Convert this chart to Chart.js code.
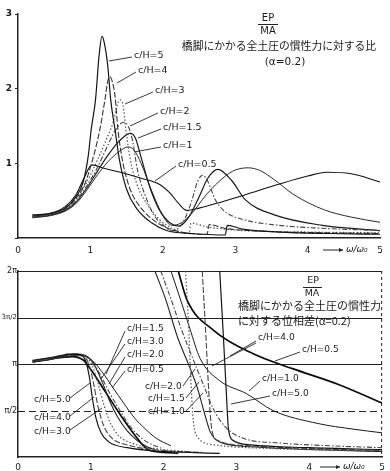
<!DOCTYPE html>
<html><head><meta charset="utf-8">
<script src="https://cdn.jsdelivr.net/npm/chart.js@4"></script>
<style>
html,body{margin:0;padding:0;background:#fff;width:390px;height:471px;overflow:hidden}
canvas{position:absolute;left:0}
#c1{top:0}
#c2{top:258px}
</style></head><body>
<canvas id="c1" width="390" height="258" style="width:390px;height:258px"></canvas>
<canvas id="c2" width="390" height="213" style="width:390px;height:213px"></canvas>
<script>
// ---------- data ----------
const xTicks = [0, 1, 2, 3, 4, 5];
const ampTicks = [0, 1, 2, 3];
const phaseTicks = [0.5, 1, 1.5, 2];            // in units of π
const phaseTickLabels = ['π/2', 'π', '3π/2', '2π'];

// EP/MA amplitude ratio vs ω/ω0
const ampCH5  = [[0.2,0.31],[0.45,0.33],[0.65,0.4],[0.8,0.55],[0.9,0.75],[0.97,1.1],[1.01,1.45],[1.07,1.85],[1.12,2.45],[1.16,2.70],[1.19,2.62],[1.24,2.3],[1.28,1.85],[1.34,1.45],[1.4,1.05],[1.5,0.65],[1.65,0.38],[1.85,0.2],[2.05,0.1],[2.4,0.06],[2.86,0.04],[2.89,0.17],[3.1,0.12],[3.6,0.08],[4.3,0.06],[5,0.05]];
const ampCH4  = [[0.2,0.30],[0.45,0.33],[0.65,0.4],[0.8,0.53],[0.92,0.72],[1.03,1.05],[1.13,1.45],[1.2,1.85],[1.24,2.1],[1.27,2.16],[1.3,2.1],[1.34,1.9],[1.38,1.45],[1.45,1.0],[1.55,0.65],[1.7,0.4],[1.9,0.22],[2.1,0.12],[2.3,0.07],[2.61,0.05],[2.64,0.18],[2.85,0.13],[3.4,0.09],[4.2,0.07],[5,0.06]];
const ampCH3  = [[0.2,0.29],[0.45,0.32],[0.65,0.39],[0.8,0.52],[0.95,0.75],[1.1,1.05],[1.22,1.32],[1.31,1.54],[1.37,1.78],[1.41,1.85],[1.45,1.78],[1.49,1.45],[1.55,1.05],[1.65,0.7],[1.8,0.43],[1.95,0.25],[2.15,0.12],[2.36,0.06],[2.39,0.2],[2.6,0.15],[3.1,0.1],[4,0.08],[5,0.07]];
const ampCH2  = [[0.2,0.28],[0.45,0.31],[0.65,0.38],[0.8,0.5],[0.95,0.7],[1.1,0.95],[1.22,1.2],[1.35,1.45],[1.46,1.55],[1.52,1.5],[1.58,1.31],[1.65,0.91],[1.78,0.51],[1.88,0.3],[2.0,0.18],[2.12,0.1],[2.2,0.12],[2.3,0.25],[2.4,0.5],[2.48,0.76],[2.55,0.84],[2.62,0.76],[2.72,0.52],[2.85,0.36],[3.1,0.25],[3.6,0.17],[4.2,0.13],[5,0.1]];
const ampCH15 = [[0.2,0.28],[0.45,0.31],[0.65,0.37],[0.8,0.48],[0.95,0.67],[1.1,0.9],[1.25,1.12],[1.4,1.3],[1.55,1.4],[1.62,1.34],[1.7,1.08],[1.82,0.68],[1.95,0.38],[2.1,0.2],[2.22,0.16],[2.35,0.27],[2.5,0.55],[2.62,0.8],[2.76,0.92],[2.95,0.77],[3.14,0.51],[3.54,0.31],[4.2,0.17],[5,0.1]];
const ampCH1  = [[0.2,0.27],[0.45,0.3],[0.65,0.36],[0.8,0.46],[0.95,0.64],[1.1,0.85],[1.25,1.03],[1.4,1.16],[1.52,1.22],[1.6,1.18],[1.7,1.0],[1.85,0.62],[2.0,0.3],[2.12,0.17],[2.25,0.2],[2.4,0.33],[2.6,0.58],[2.85,0.82],[3.0,0.91],[3.18,0.94],[3.35,0.9],[3.54,0.78],[3.81,0.58],[4.22,0.38],[4.6,0.28],[5,0.21]];
const ampCH05 = [[0.2,0.29],[0.45,0.33],[0.65,0.42],[0.8,0.58],[0.92,0.82],[1.02,0.98],[1.2,0.93],[1.45,0.87],[1.7,0.8],[1.95,0.72],[2.1,0.6],[2.22,0.46],[2.33,0.37],[2.5,0.4],[2.8,0.48],[3.14,0.58],[3.6,0.72],[4.0,0.83],[4.26,0.88],[4.6,0.86],[5,0.75]];

// phase difference (units of π); "a" = first branch, "b" = branch after wrap
const phCH5a  = [[0.2,1.04],[0.45,1.07],[0.7,1.1],[0.85,1.1],[0.93,1.03],[0.98,0.86],[1.02,0.64],[1.07,0.42],[1.14,0.26],[1.25,0.16],[1.5,0.1],[2.0,0.06],[2.77,0.04]];
const phCH5b  = [[2.77,2.0],[2.82,1.3],[2.86,0.7],[2.89,0.3],[2.95,0.18],[3.2,0.13],[4.0,0.1],[5.0,0.08]];
const phCH4a  = [[0.2,1.03],[0.45,1.06],[0.72,1.11],[0.88,1.1],[0.98,0.98],[1.04,0.78],[1.1,0.54],[1.17,0.35],[1.28,0.21],[1.5,0.13],[2.0,0.07],[2.53,0.05]];
const phCH4b  = [[2.53,2.0],[2.58,1.3],[2.62,0.7],[2.66,0.3],[2.74,0.18],[3.2,0.12],[4.0,0.09],[5.0,0.07]];
const phCH3a  = [[0.2,1.03],[0.45,1.06],[0.75,1.11],[0.92,1.09],[1.03,0.96],[1.11,0.76],[1.18,0.56],[1.26,0.38],[1.38,0.23],[1.6,0.14],[2.0,0.08],[2.3,0.06]];
const phCH3b  = [[2.3,2.0],[2.34,1.45],[2.37,0.9],[2.4,0.45],[2.46,0.22],[2.7,0.13],[3.5,0.09],[5.0,0.07]];
const phCH2a  = [[0.2,1.02],[0.45,1.05],[0.78,1.11],[0.95,1.08],[1.06,0.97],[1.16,0.8],[1.26,0.6],[1.36,0.44],[1.5,0.28],[1.65,0.17],[1.8,0.1],[1.88,0.08]];
const phCH2b  = [[1.88,2.0],[2.03,1.69],[2.19,1.29],[2.36,0.96],[2.46,0.75],[2.55,0.5],[2.64,0.27],[2.77,0.16],[3.2,0.11],[4.0,0.08],[5.0,0.06]];
const phCH15a = [[0.2,1.02],[0.45,1.05],[0.8,1.1],[1.0,1.05],[1.12,0.9],[1.25,0.7],[1.4,0.5],[1.55,0.32],[1.7,0.2],[1.85,0.13],[1.96,0.1]];
const phCH15b = [[1.96,2.0],[2.1,1.7],[2.25,1.36],[2.42,1.02],[2.55,0.77],[2.68,0.52],[2.85,0.32],[3.1,0.2],[3.6,0.15],[4.3,0.12],[5.0,0.1]];
const phCH1a  = [[0.2,1.02],[0.45,1.05],[0.8,1.09],[1.0,1.05],[1.15,0.92],[1.3,0.75],[1.45,0.58],[1.6,0.42],[1.75,0.3],[1.9,0.2],[2.1,0.12]];
const phCH1b  = [[2.1,2.0],[2.22,1.72],[2.36,1.38],[2.5,1.06],[2.77,0.82],[3.14,0.68],[3.5,0.5],[4.12,0.36],[4.6,0.3],[5.0,0.26]];
const phCH05a = [[0.2,1.03],[0.45,1.06],[0.75,1.08],[0.9,1.04],[1.0,0.94],[1.2,0.7],[1.4,0.46],[1.6,0.24],[1.78,0.08],[2.0,0.05],[2.2,0.04]];
const phCH05b = [[2.2,2.0],[2.32,1.69],[2.69,1.36],[3.23,1.11],[3.77,0.95],[4.4,0.78],[5.0,0.58]];

// ---------- styles ----------
const ampSeries = [
  {label:'c/H=5',   data:ampCH5,  color:'#151515', dash:[],     w:1.2},
  {label:'c/H=4',   data:ampCH4,  color:'#333',    dash:[6,2],  w:1.1},
  {label:'c/H=3',   data:ampCH3,  color:'#555',    dash:[1.5,2],w:1.2},
  {label:'c/H=2',   data:ampCH2,  color:'#444',    dash:[5,2,1.5,2], w:1.1},
  {label:'c/H=1.5', data:ampCH15, color:'#1a1a1a', dash:[],     w:1.2},
  {label:'c/H=1',   data:ampCH1,  color:'#2a2a2a', dash:[],     w:1.0},
  {label:'c/H=0.5', data:ampCH05, color:'#111',    dash:[],     w:1.1}
];
const phSeries = [
  {label:'c/H=5.0', data:[phCH5a, phCH5b],  color:'#151515', dash:[],      w:1.2},
  {label:'c/H=4.0', data:[phCH4a, phCH4b],  color:'#444',    dash:[6,2],   w:1.1},
  {label:'c/H=3.0', data:[phCH3a, phCH3b],  color:'#555',    dash:[1.5,2], w:1.2},
  {label:'c/H=2.0', data:[phCH2a, phCH2b],  color:'#222',    dash:[],      w:1.1},
  {label:'c/H=1.5', data:[phCH15a, phCH15b],color:'#444',    dash:[5,2,1.5,2], w:1.1},
  {label:'c/H=1.0', data:[phCH1a, phCH1b],  color:'#1a1a1a', dash:[],      w:1.0},
  {label:'c/H=0.5', data:[phCH05a, phCH05b],color:'#0a0a0a', dash:[],      w:1.7}
];

const pts = a => a.map(([x,y]) => ({x, y}));
function ds(label, arr, s){
  return {label, data: pts(arr), borderColor:s.color, borderWidth:s.w, borderDash:s.dash,
    pointRadius:0, fill:false, cubicInterpolationMode:'monotone', spanGaps:false};
}

const tickFont = {family:'DejaVu Sans', size:9};
const INK = '#1a1a1a';

function drawLabel(ctx, t, tx, ty, lx1, ly1, lx2, ly2, size){
  ctx.font = size + 'px "DejaVu Sans"';
  ctx.fillStyle = INK; ctx.textBaseline = 'middle'; ctx.textAlign = 'left';
  ctx.fillText(t, tx, ty);
  ctx.beginPath(); ctx.setLineDash([]); ctx.lineWidth = 0.9; ctx.strokeStyle = '#222';
  ctx.moveTo(lx1, ly1); ctx.lineTo(lx2, ly2); ctx.stroke();
}
function drawOmega(ctx, x0, y){
  ctx.beginPath(); ctx.setLineDash([]); ctx.lineWidth = 1; ctx.strokeStyle = '#222';
  ctx.moveTo(x0, y); ctx.lineTo(x0 + 20, y); ctx.stroke();
  ctx.beginPath(); ctx.moveTo(x0 + 20, y); ctx.lineTo(x0 + 16, y - 2); ctx.lineTo(x0 + 16, y + 2); ctx.closePath();
  ctx.fillStyle = '#222'; ctx.fill();
  ctx.font = 'italic 9px "DejaVu Sans"'; ctx.textBaseline = 'middle'; ctx.textAlign = 'left';
  ctx.fillText('ω/ω₀', x0 + 23, y);
}

// ---------- top chart ----------
const topAnno = {
  id:'topAnno',
  afterDraw(chart){
    const ctx = chart.ctx; ctx.save();
    ctx.fillStyle = INK; ctx.textAlign = 'center'; ctx.textBaseline = 'middle';
    ctx.font = '10px "DejaVu Sans"';
    ctx.fillText('EP', 268, 18);
    ctx.fillText('MA', 268, 31);
    ctx.beginPath(); ctx.lineWidth = 1; ctx.strokeStyle = '#222'; ctx.moveTo(258, 24.5); ctx.lineTo(278, 24.5); ctx.stroke();
    ctx.font = '10.8px "Noto Sans CJK JP"';
    ctx.fillText('橋脚にかかる全土圧の慣性力に対する比', 279, 46);
    ctx.font = '10.5px "DejaVu Sans"';
    ctx.fillText('(α=0.2)', 285, 62);
    const L = [
      ['c/H=5',   134, 56,  132, 57,  109, 61],
      ['c/H=4',   138, 71,  136, 72,  117, 83],
      ['c/H=3',   155, 91,  153, 92,  125, 104],
      ['c/H=2',   160, 112, 158, 113, 130, 126],
      ['c/H=1.5', 163, 128, 161, 129, 138, 138],
      ['c/H=1',   163, 146, 161, 147, 134, 152],
      ['c/H=0.5', 178, 165, 176, 166, 155, 181]
    ];
    L.forEach(l => drawLabel(ctx, ...l, 9.5));
    drawOmega(ctx, 323, 250);
    ctx.restore();
  }
};

new Chart(document.getElementById('c1'), {
  type:'line',
  data:{ datasets: ampSeries.map(s => ds(s.label, s.data, s)) },
  options:{
    responsive:false, animation:false, events:[],
    layout:{padding:{top:14, right:2, left:0, bottom:0}},
    plugins:{legend:{display:false}, tooltip:{enabled:false}},
    scales:{
      x:{type:'linear', min:0, max:5, afterBuildTicks:s => { s.ticks = xTicks.map(v => ({value:v})); },
        ticks:{font:tickFont, color:INK, padding:7, maxRotation:0},
        grid:{display:false, drawTicks:false}, border:{color:'#222', width:1.5},
        afterFit:s => { s.height = 20; }},
      y:{type:'linear', min:0, max:3, afterBuildTicks:s => { s.ticks = ampTicks.map(v => ({value:v})); },
        ticks:{font:{family:'DejaVu Sans', size:9, weight:'bold'}, color:INK, padding:3, callback:v => v === 0 ? '' : String(v)},
        grid:{drawOnChartArea:false, drawTicks:true, tickLength:3, color:'#222'},
        border:{color:'#222', width:1.5},
        afterFit:s => { s.width = 18; }}
    }
  },
  plugins:[topAnno]
});

// ---------- bottom chart ----------
const OFF = 258;
const phaseGuides = {
  id:'phaseGuides',
  beforeDatasetsDraw(chart){
    const {ctx, scales:{x, y}} = chart; ctx.save();
    ctx.strokeStyle = '#222'; ctx.lineWidth = 1.2;
    phaseTicks.forEach(v => {
      const py = Math.round(y.getPixelForValue(v)) + 0.5;
      ctx.beginPath(); ctx.setLineDash(v === 0.5 ? [7,4] : []);
      ctx.moveTo(x.left, py); ctx.lineTo(x.right, py); ctx.stroke();
    });
    ctx.beginPath(); ctx.setLineDash([3,3]); ctx.lineWidth = 1;
    ctx.moveTo(x.right - 0.5, y.top); ctx.lineTo(x.right - 0.5, y.bottom); ctx.stroke();
    ctx.restore();
  }
};
const botAnno = {
  id:'botAnno',
  afterDraw(chart){
    const ctx = chart.ctx; ctx.save();
    ctx.translate(0, -OFF);
    ctx.fillStyle = INK; ctx.textAlign = 'center'; ctx.textBaseline = 'middle';
    ctx.font = '9.5px "DejaVu Sans"';
    ctx.fillText('EP', 313, 281);
    ctx.fillText('MA', 312, 294);
    ctx.beginPath(); ctx.lineWidth = 1; ctx.strokeStyle = '#222'; ctx.moveTo(303, 287.5); ctx.lineTo(322, 287.5); ctx.stroke();
    ctx.textAlign = 'left';
    ctx.font = '11px "Noto Sans CJK JP"';
    ctx.fillText('橋脚にかかる全土圧の慣性力', 238, 306);
    ctx.fillText('に対する位相差(α=0.2)', 238, 321);
    const L = [
      ['c/H=1.5', 127, 329, 125, 331, 106, 374],
      ['c/H=3.0', 127, 342, 125, 344, 101, 379],
      ['c/H=2.0', 127, 355, 125, 357, 109, 384],
      ['c/H=0.5', 127, 370, 125, 371, 112, 388],
      ['c/H=2.0', 145, 387, 183, 386, 195, 369],
      ['c/H=1.5', 148, 399, 186, 398, 199, 382],
      ['c/H=1.0', 148, 412, 186, 411, 203, 393],
      ['c/H=5.0', 34,  400, 70,  398, 90,  383],
      ['c/H=4.0', 34,  418, 70,  416, 94,  397],
      ['c/H=3.0', 34,  432, 70,  430, 102, 408],
      ['c/H=4.0', 258, 338, 256, 341, 230, 356],
      ['c/H=0.5', 302, 350, 300, 352, 275, 361],
      ['c/H=1.0', 262, 379, 260, 381, 249, 391],
      ['c/H=5.0', 272, 394, 270, 396, 231, 404]
    ];
    L.forEach(l => drawLabel(ctx, ...l, 9));
    ctx.beginPath(); ctx.lineWidth = 0.9; ctx.strokeStyle = '#222';
    ctx.moveTo(256, 343); ctx.lineTo(212, 366); ctx.stroke();
    drawOmega(ctx, 320, 467);
    ctx.restore();
  }
};

const phDatasets = [];
phSeries.forEach(s => s.data.forEach(b => phDatasets.push(ds(s.label, b, s))));

new Chart(document.getElementById('c2'), {
  type:'line',
  data:{ datasets: phDatasets },
  options:{
    responsive:false, animation:false, events:[],
    layout:{padding:{top:13, right:2, left:0, bottom:0}},
    plugins:{legend:{display:false}, tooltip:{enabled:false}},
    scales:{
      x:{type:'linear', min:0, max:5, afterBuildTicks:s => { s.ticks = xTicks.map(v => ({value:v})); },
        ticks:{font:tickFont, color:INK, padding:5, maxRotation:0},
        grid:{display:false, drawTicks:false}, border:{color:'#222', width:1.5},
        afterFit:s => { s.height = 14; }},
      y:{type:'linear', min:0, max:2, afterBuildTicks:s => { s.ticks = phaseTicks.map(v => ({value:v})); },
        ticks:{font:c => ({family:'DejaVu Sans', size: (c.tick && c.tick.value === 1.5) ? 7 : 8}), color:INK, padding:1,
          callback:v => phaseTickLabels[phaseTicks.indexOf(v)] || ''},
        grid:{drawOnChartArea:false, drawTicks:false},
        border:{color:'#222', width:1.5},
        afterFit:s => { s.width = 18; }}
    }
  },
  plugins:[phaseGuides, botAnno]
});
</script></body></html>
